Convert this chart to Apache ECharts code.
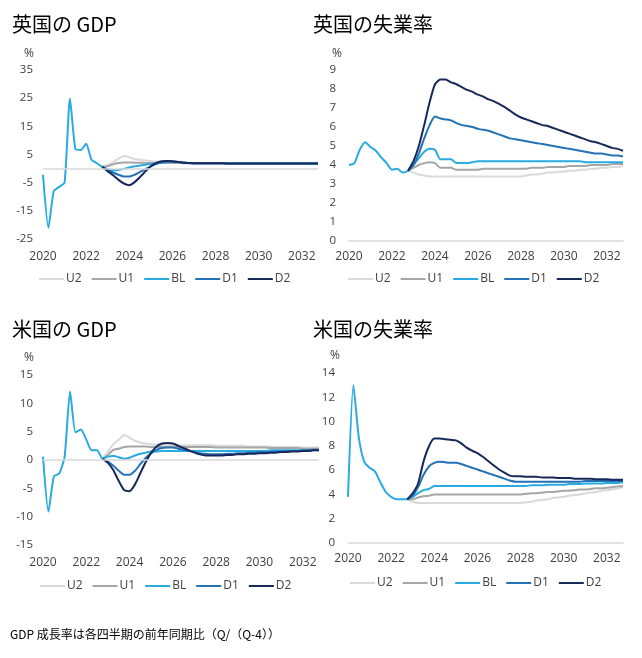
<!DOCTYPE html>
<html>
<head>
<meta charset="utf-8">
<script src="https://cdn.jsdelivr.net/npm/echarts@6/dist/echarts.min.js"></script>
<style>
  html, body { margin: 0; padding: 0; background: #fff; }
  #main { width: 642px; height: 658px; }
</style>
</head>
<body>
<div id="main"></div>
<script>
// years on the x axis, one point per quarter
var years = [2020, 2021, 2022, 2023, 2024, 2025, 2026, 2027, 2028, 2029, 2030, 2031, 2032];
var quarterNames = ['Q1', 'Q2', 'Q3', 'Q4'];
var quarters = [];
years.forEach(function (y) {
    quarterNames.forEach(function (q) { quarters.push(y + q); });
});

var seriesNames = ['U2', 'U1', 'BL', 'D1', 'D2'];
var seriesColors = ['#d9d9d9', '#a6a6a6', '#29abe2', '#2372b5', '#17285a'];

// UK GDP, % y/y. history 2020Q1-2022Q4, scenarios 2023Q1-2032Q4
var ukGdpHist = [-2.2, -21.0, -8.0, -6.5, -5.0, 24.8, 7.0, 6.6, 8.8, 3.1, 1.9, 0.6];
var ukGdpU2 = [1.2, 2.3, 3.5, 4.5, 4.0, 3.4, 3.1, 2.9, 2.7, 2.5, 2.4, 2.3, 2.2, 2.1, 2.0, 2.0, 1.9, 1.9, 1.9, 1.9,
    1.9, 1.9, 1.8, 1.8, 1.8, 1.8, 1.8, 1.8, 1.8, 1.8, 1.8, 1.8, 1.8, 1.8, 1.8, 1.8, 1.8, 1.8, 1.8, 1.8];
var ukGdpU1 = [0.8, 1.5, 2.0, 2.2, 2.2, 2.1, 2.1, 2.0, 2.0, 2.0, 2.0, 2.0, 2.0, 2.0, 1.9, 1.9, 1.9, 1.9, 1.9, 1.9,
    1.9, 1.9, 1.8, 1.8, 1.8, 1.8, 1.8, 1.8, 1.8, 1.8, 1.8, 1.8, 1.8, 1.8, 1.8, 1.8, 1.8, 1.8, 1.8, 1.8];
var ukGdpBL = [-0.2, -0.6, -0.5, -0.1, 0.4, 0.8, 1.1, 1.4, 1.6, 1.9, 2.1, 2.3, 2.4, 2.3, 2.1, 2.0, 1.9, 1.9, 1.9, 1.9,
    1.9, 1.9, 1.8, 1.8, 1.8, 1.8, 1.8, 1.8, 1.8, 1.8, 1.8, 1.8, 1.8, 1.8, 1.8, 1.8, 1.8, 1.8, 1.8, 1.8];
var ukGdpD1 = [-0.5, -1.4, -2.2, -2.8, -2.8, -2.2, -1.2, -0.2, 0.8, 1.6, 2.2, 2.5, 2.5, 2.4, 2.2, 2.0, 1.9, 1.9, 1.9, 1.9,
    1.9, 1.9, 1.8, 1.8, 1.8, 1.8, 1.8, 1.8, 1.8, 1.8, 1.8, 1.8, 1.8, 1.8, 1.8, 1.8, 1.8, 1.8, 1.8, 1.8];
var ukGdpD2 = [-0.9, -2.4, -4.0, -5.3, -5.9, -4.8, -3.0, -1.0, 0.8, 2.0, 2.6, 2.7, 2.6, 2.3, 2.1, 2.0, 1.9, 1.9, 1.9, 1.9,
    1.9, 1.9, 1.8, 1.8, 1.8, 1.8, 1.8, 1.8, 1.8, 1.8, 1.8, 1.8, 1.8, 1.8, 1.8, 1.8, 1.8, 1.8, 1.8, 1.8];

// UK unemployment rate, %
var ukUnHist = [4.0, 4.1, 4.8, 5.2, 4.95, 4.75, 4.4, 4.1, 3.75, 3.8, 3.6, 3.7];
var ukUnU2 = [3.6, 3.5, 3.45, 3.4, 3.4, 3.4, 3.4, 3.4, 3.4, 3.4, 3.4, 3.4, 3.4, 3.4, 3.4, 3.4, 3.4, 3.4, 3.4, 3.4,
    3.4, 3.45, 3.5, 3.5, 3.55, 3.6, 3.6, 3.65, 3.65, 3.7, 3.7, 3.75, 3.75, 3.8, 3.8, 3.85, 3.85, 3.9, 3.9, 3.95];
var ukUnU1 = [3.85, 4.0, 4.1, 4.15, 4.1, 3.85, 3.85, 3.85, 3.75, 3.75, 3.75, 3.75, 3.75, 3.8, 3.8, 3.8, 3.8, 3.8, 3.8, 3.8,
    3.8, 3.8, 3.85, 3.85, 3.85, 3.9, 3.9, 3.9, 3.9, 3.95, 3.95, 3.95, 3.95, 4.0, 4.0, 4.0, 4.0, 4.05, 4.05, 4.05];
var ukUnBL = [4.0, 4.35, 4.7, 4.85, 4.8, 4.3, 4.3, 4.3, 4.1, 4.1, 4.1, 4.15, 4.2, 4.2, 4.2, 4.2, 4.2, 4.2, 4.2, 4.2,
    4.2, 4.2, 4.2, 4.2, 4.2, 4.2, 4.2, 4.2, 4.2, 4.2, 4.2, 4.2, 4.15, 4.15, 4.15, 4.15, 4.15, 4.15, 4.15, 4.15];
var ukUnD1 = [4.0, 4.6, 5.4, 6.1, 6.55, 6.45, 6.4, 6.35, 6.2, 6.1, 6.05, 6.0, 5.9, 5.85, 5.8, 5.7, 5.6, 5.5, 5.4, 5.35,
    5.3, 5.25, 5.2, 5.15, 5.1, 5.05, 5.0, 4.95, 4.9, 4.85, 4.8, 4.75, 4.7, 4.65, 4.6, 4.6, 4.55, 4.5, 4.5, 4.45];
var ukUnD2 = [4.2, 5.0, 6.1, 7.3, 8.25, 8.5, 8.5, 8.35, 8.25, 8.1, 7.95, 7.85, 7.7, 7.6, 7.45, 7.35, 7.2, 7.05, 6.85, 6.65,
    6.5, 6.4, 6.3, 6.2, 6.1, 6.05, 5.95, 5.85, 5.75, 5.65, 5.55, 5.45, 5.35, 5.25, 5.2, 5.1, 5.0, 4.9, 4.85, 4.75];

// US GDP, % y/y
var usGdpHist = [0.6, -9.1, -2.9, -2.4, 0.6, 12.1, 4.9, 5.4, 3.6, 1.7, 1.7, 0.2];
var usGdpU2 = [1.5, 2.8, 3.6, 4.4, 3.9, 3.4, 3.1, 2.9, 2.8, 2.7, 2.6, 2.6, 2.6, 2.6, 2.6, 2.6, 2.6, 2.6, 2.6, 2.6,
    2.5, 2.5, 2.5, 2.5, 2.5, 2.5, 2.4, 2.4, 2.4, 2.4, 2.4, 2.3, 2.3, 2.3, 2.3, 2.3, 2.2, 2.2, 2.2, 2.2];
var usGdpU1 = [0.9, 1.8, 2.0, 2.3, 2.4, 2.4, 2.4, 2.4, 2.3, 2.3, 2.3, 2.3, 2.3, 2.3, 2.3, 2.3, 2.3, 2.3, 2.3, 2.3,
    2.2, 2.2, 2.2, 2.2, 2.2, 2.2, 2.2, 2.2, 2.2, 2.2, 2.1, 2.1, 2.1, 2.1, 2.1, 2.1, 2.0, 2.0, 2.0, 2.0];
var usGdpBL = [0.6, 0.7, 0.5, 0.2, 0.4, 0.8, 1.1, 1.3, 1.5, 1.5, 1.6, 1.6, 1.6, 1.6, 1.6, 1.6, 1.6, 1.6, 1.6, 1.6,
    1.6, 1.6, 1.6, 1.6, 1.6, 1.6, 1.6, 1.6, 1.6, 1.6, 1.7, 1.7, 1.7, 1.7, 1.7, 1.7, 1.7, 1.7, 1.7, 1.7];
var usGdpD1 = [-0.3, -1.0, -1.9, -2.6, -2.6, -1.9, -0.7, 0.4, 1.2, 1.8, 2.1, 2.2, 2.2, 2.0, 1.8, 1.6, 1.4, 1.2, 1.1, 1.0,
    1.0, 1.0, 1.1, 1.1, 1.2, 1.2, 1.3, 1.3, 1.4, 1.4, 1.4, 1.5, 1.5, 1.6, 1.6, 1.6, 1.7, 1.7, 1.8, 1.8];
var usGdpD2 = [-0.5, -1.8, -3.7, -5.3, -5.5, -4.3, -2.3, -0.3, 1.3, 2.4, 2.9, 3.0, 2.9, 2.5, 2.1, 1.7, 1.3, 1.0, 0.8, 0.8,
    0.8, 0.8, 0.9, 0.9, 1.0, 1.0, 1.1, 1.1, 1.2, 1.2, 1.3, 1.3, 1.4, 1.4, 1.5, 1.5, 1.6, 1.6, 1.7, 1.7];

// US unemployment rate, %
var usUnHist = [3.8, 13.0, 8.7, 6.7, 6.2, 5.9, 5.0, 4.2, 3.8, 3.6, 3.6, 3.6];
var usUnU2 = [3.4, 3.3, 3.3, 3.3, 3.3, 3.3, 3.3, 3.3, 3.3, 3.3, 3.3, 3.3, 3.3, 3.3, 3.3, 3.3, 3.3, 3.3, 3.3, 3.3,
    3.3, 3.35, 3.4, 3.5, 3.55, 3.6, 3.7, 3.75, 3.8, 3.9, 3.95, 4.0, 4.1, 4.15, 4.2, 4.3, 4.35, 4.4, 4.5, 4.6];
var usUnU1 = [3.6, 3.75, 3.85, 3.9, 4.0, 4.0, 4.0, 4.0, 4.0, 4.0, 4.0, 4.0, 4.0, 4.0, 4.0, 4.0, 4.0, 4.0, 4.0, 4.0,
    4.0, 4.05, 4.1, 4.1, 4.15, 4.2, 4.2, 4.25, 4.3, 4.3, 4.35, 4.4, 4.4, 4.45, 4.5, 4.5, 4.55, 4.6, 4.65, 4.7];
var usUnBL = [3.8, 4.1, 4.35, 4.45, 4.7, 4.7, 4.7, 4.7, 4.7, 4.7, 4.7, 4.7, 4.7, 4.7, 4.7, 4.7, 4.7, 4.7, 4.7, 4.7,
    4.7, 4.7, 4.75, 4.75, 4.75, 4.8, 4.8, 4.8, 4.8, 4.85, 4.85, 4.85, 4.9, 4.9, 4.9, 4.9, 4.95, 4.95, 4.95, 5.0];
var usUnD1 = [3.9, 4.6, 5.6, 6.3, 6.6, 6.7, 6.65, 6.6, 6.6, 6.5, 6.35, 6.2, 6.05, 5.9, 5.75, 5.6, 5.45, 5.3, 5.15, 5.05,
    5.05, 5.05, 5.05, 5.05, 5.05, 5.05, 5.05, 5.05, 5.05, 5.05, 5.05, 5.05, 5.1, 5.1, 5.1, 5.1, 5.1, 5.1, 5.1, 5.1];
var usUnD2 = [4.1, 4.9, 6.7, 7.95, 8.6, 8.6, 8.55, 8.5, 8.45, 8.2, 7.85, 7.6, 7.4, 7.1, 6.75, 6.4, 6.05, 5.8, 5.55, 5.5,
    5.5, 5.45, 5.45, 5.45, 5.4, 5.4, 5.4, 5.35, 5.35, 5.35, 5.3, 5.3, 5.3, 5.3, 5.25, 5.25, 5.25, 5.2, 5.2, 5.2];

var titles = ['英国の GDP', '英国の失業率', '米国の GDP', '米国の失業率'];
var footnote = 'GDP 成長率は各四半期の前年同期比（Q/（Q-4））';

var panels = [
    { hist: ukGdpHist, scen: [ukGdpU2, ukGdpU1, ukGdpBL, ukGdpD1, ukGdpD2], min: -25, max: 35, interval: 10, zeroLine: true },
    { hist: ukUnHist, scen: [ukUnU2, ukUnU1, ukUnBL, ukUnD1, ukUnD2], min: 0, max: 9, interval: 1, zeroLine: false },
    { hist: usGdpHist, scen: [usGdpU2, usGdpU1, usGdpBL, usGdpD1, usGdpD2], min: -15, max: 15, interval: 5, zeroLine: true },
    { hist: usUnHist, scen: [usUnU2, usUnU1, usUnBL, usUnD1, usUnD2], min: 0, max: 14, interval: 2, zeroLine: false }
];

// layout of the four panels
var grids = [
    { left: 43, top: 70, width: 275, height: 169 },
    { left: 349, top: 70, width: 274, height: 171 },
    { left: 43, top: 375, width: 276, height: 170 },
    { left: 348, top: 373, width: 275, height: 170 }
];
var legendPos = [
    { left: 34, top: 268 },
    { left: 343, top: 268 },
    { left: 35, top: 575 },
    { left: 345, top: 572 }
];
var titlePos = [[12, 14], [313, 14], [12, 319], [313, 319]];
var percentPos = [[24, 48], [332, 48], [24, 352], [330, 350]];

var axisFont = 'Open Sans, Noto Sans, sans-serif';
var cjkFont = 'Noto Sans CJK JP, sans-serif';

var xAxes = [], yAxes = [], series = [], legends = [], graphics = [];

panels.forEach(function (p, g) {
    xAxes.push({
        type: 'category',
        gridIndex: g,
        data: quarters,
        boundaryGap: false,
        axisTick: { show: false },
        axisLine: {
            show: !p.zeroLine,
            onZero: false,
            lineStyle: { color: '#d9d9d9', width: 1.5 }
        },
        axisLabel: {
            interval: 7,
            margin: p.zeroLine ? 12 : 10,
            color: '#404040',
            fontSize: 12,
            fontFamily: axisFont,
            formatter: function (v) { return v.slice(0, 4); }
        },
        splitLine: { show: false }
    });
    yAxes.push({
        type: 'value',
        gridIndex: g,
        min: p.min,
        max: p.max,
        interval: p.interval,
        axisLine: { show: false },
        axisTick: { show: false },
        splitLine: { show: false },
        axisLabel: {
            color: '#404040',
            fontSize: 11.5,
            margin: p.zeroLine ? 10 : 13,
            fontFamily: axisFont
        }
    });

    seriesNames.forEach(function (name, k) {
        var data;
        if (name === 'BL') {
            data = p.hist.concat(p.scen[k]);
        } else {
            // scenarios branch off the last history point
            data = p.hist.map(function (v, i) { return i === p.hist.length - 1 ? v : null; }).concat(p.scen[k]);
        }
        var s = {
            name: name,
            type: 'line',
            xAxisIndex: g,
            yAxisIndex: g,
            data: data,
            symbol: 'none',
            smooth: 0.2,
            silent: true,
            lineStyle: { color: seriesColors[k], width: 2 },
            itemStyle: { color: seriesColors[k] }
        };
        if (p.zeroLine && k === 0) {
            s.markLine = {
                silent: true,
                symbol: 'none',
                label: { show: false },
                lineStyle: { color: '#d9d9d9', type: 'solid', width: 1.5 },
                data: [{ yAxis: 0 }]
            };
        }
        series.push(s);
    });

    legends.push({
        data: seriesNames,
        left: legendPos[g].left,
        top: legendPos[g].top,
        icon: 'rect',
        itemWidth: 25,
        itemHeight: 2,
        itemGap: 10,
        selectedMode: false,
        textStyle: { color: '#404040', fontSize: 12, fontFamily: axisFont, padding: [0, 0, 0, -3] }
    });

    graphics.push({
        type: 'text',
        left: titlePos[g][0],
        top: titlePos[g][1],
        style: { text: titles[g], fill: '#000', font: '20px ' + cjkFont }
    });
    graphics.push({
        type: 'text',
        left: percentPos[g][0],
        top: percentPos[g][1],
        style: { text: '%', fill: '#404040', font: '12px ' + axisFont }
    });
});

graphics.push({
    type: 'text',
    left: 10,
    top: 628,
    style: { text: footnote, fill: '#000', font: '12px ' + cjkFont }
});

var myChart = echarts.init(document.getElementById('main'));
myChart.setOption({
    animation: false,
    backgroundColor: '#fff',
    grid: grids,
    xAxis: xAxes,
    yAxis: yAxes,
    legend: legends,
    graphic: graphics,
    series: series
});
</script>
</body>
</html>
